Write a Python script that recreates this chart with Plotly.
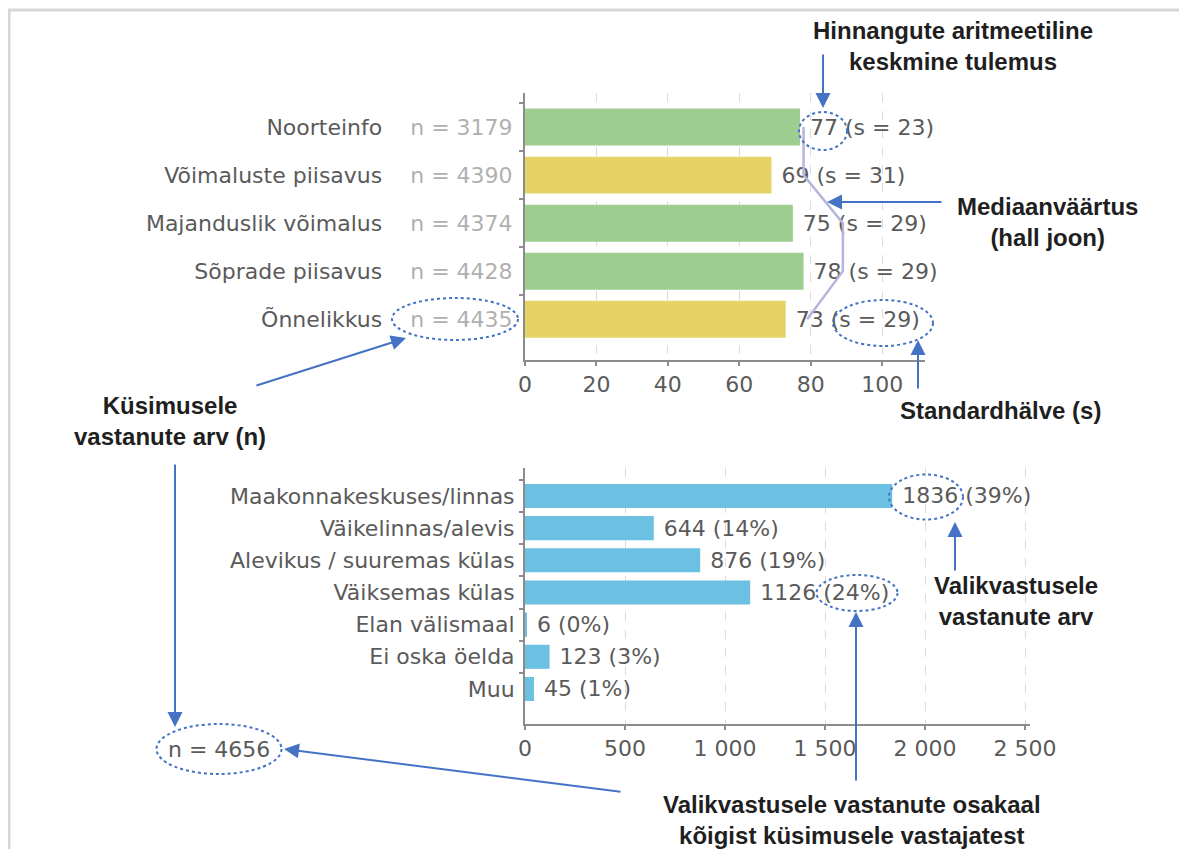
import plotly.graph_objects as go

# upper chart: ratings on a 0-100 scale
topics = ["Noorteinfo", "Võimaluste piisavus", "Majanduslik võimalus", "Sõprade piisavus", "Õnnelikkus"]
topic_n = [3179, 4390, 4374, 4428, 4435]
topic_mean = [77, 69, 75, 78, 73]
topic_sd = [23, 31, 29, 29, 29]
topic_median = [78, 78, 89, 89, 79]

# lower chart: place of residence
places = ["Maakonnakeskuses/linnas", "Väikelinnas/alevis", "Alevikus / suuremas külas",
          "Väiksemas külas", "Elan välismaal", "Ei oska öelda", "Muu"]
place_count = [1836, 644, 876, 1126, 6, 123, 45]
place_pct = [39, 14, 19, 24, 0, 3, 1]
total_n = 4656

top_ticks = [0, 20, 40, 60, 80, 100]
bottom_ticks = [0, 500, 1000, 1500, 2000, 2500]
bottom_ticktext = ["0", "500", "1 000", "1 500", "2 000", "2 500"]

GREEN = "#9dcd90"
YELLOW = "#e6d365"
BLUE = "#6cc0e2"
top_colors = [GREEN, YELLOW, GREEN, GREEN, YELLOW]

GRAY_TXT = "#5a5a5a"
LIGHT_TXT = "#b0b0b0"
CALLOUT = "#4472c4"
FONT = "DejaVu Sans"
BOLD_FONT = "Liberation Sans"

# figure is placed by the page with an 8px body margin
W, H = 1171, 841


def px(x):
    return (x - 8) / W


def py(y):
    return 1 - (y - 8) / H


top_labels = [f"{t}\u00a0\u00a0\u00a0\u00a0<span style='color:{LIGHT_TXT}'>n = {n}</span>"
              for t, n in zip(topics, topic_n)]

fig = go.Figure()

fig.add_trace(go.Bar(
    x=topic_mean, y=top_labels, orientation="h",
    marker=dict(color=top_colors, line=dict(width=0)),
    width=0.77,
    text=[f"\u00a0{m} (s = {s})" for m, s in zip(topic_mean, topic_sd)],
    textposition="outside", constraintext="none", cliponaxis=False,
    textfont=dict(family=FONT, size=22, color=GRAY_TXT),
    xaxis="x", yaxis="y", hoverinfo="skip",
))
fig.add_trace(go.Scatter(
    x=topic_median, y=top_labels, mode="lines",
    line=dict(color="#b5b5dc", width=2.5),
    xaxis="x", yaxis="y", hoverinfo="skip",
))
fig.add_trace(go.Bar(
    x=place_count, y=places, orientation="h",
    marker=dict(color=BLUE, line=dict(width=0)),
    width=0.75,
    text=[f"\u00a0{c} ({p}%)" for c, p in zip(place_count, place_pct)],
    textposition="outside", constraintext="none", cliponaxis=False,
    textfont=dict(family=FONT, size=22, color=GRAY_TXT),
    xaxis="x2", yaxis="y2", hoverinfo="skip",
))

axis_common = dict(
    showline=True, linecolor="#8c8c8c", linewidth=2,
    ticks="outside", ticklen=4, tickcolor="#8c8c8c", tickwidth=1.5,
    tickfont=dict(family=FONT, size=22, color=GRAY_TXT),
    zeroline=False, fixedrange=True, automargin=False,
)

fig.update_layout(
    template="none",
    width=W, height=H, autosize=False,
    margin=dict(l=0, r=0, t=0, b=0, pad=0),
    paper_bgcolor="white", plot_bgcolor="white",
    showlegend=False, bargap=0.2,
    xaxis=dict(**axis_common, domain=[px(525), px(925)], range=[0, 112], anchor="y",
               tickvals=top_ticks, showgrid=True, gridcolor="#dcdcdc", griddash="dash"),
    yaxis=dict(**axis_common, domain=[py(360), py(93)], anchor="x", type="category",
               categoryorder="array", categoryarray=top_labels,
               range=[4.85, -0.71], tickson="boundaries", ticklabelstandoff=6, showgrid=False),
    xaxis2=dict(**axis_common, domain=[px(525), px(1030)], range=[0, 2525], anchor="y2",
                tickvals=bottom_ticks, ticktext=bottom_ticktext,
                showgrid=True, gridcolor="#dcdcdc", griddash="dash"),
    yaxis2=dict(**axis_common, domain=[py(724), py(468)], anchor="x2", type="category",
                categoryorder="array", categoryarray=places,
                range=[7.09, -0.87], tickson="boundaries", ticklabelstandoff=4, showgrid=False),
)

# light frame along the top and left edges
fig.add_shape(type="line", xref="paper", yref="paper", x0=px(8), x1=1, y0=py(10), y1=py(10),
              line=dict(color="#d6d6d6", width=3))
fig.add_shape(type="line", xref="paper", yref="paper", x0=px(9), x1=px(9), y0=py(10), y1=0,
              line=dict(color="#d6d6d6", width=3))

# dotted ellipses (centre x, centre y, width, height in screen px)
ellipses = [(823, 131, 48, 38), (883, 323, 100, 46), (455, 319, 126, 42),
            (219, 749, 125, 50), (926, 497, 74, 45), (857, 593, 81, 36)]
for cx, cy, w, h in ellipses:
    fig.add_shape(type="circle", xref="paper", yref="paper",
                  x0=px(cx - w / 2), x1=px(cx + w / 2), y0=py(cy + h / 2), y1=py(cy - h / 2),
                  line=dict(color=CALLOUT, width=2, dash="dot"))

# arrows: (tail x, tail y, head x, head y)
arrows = [(823, 53, 823, 108), (943, 202, 827, 202), (918, 390, 918, 340),
          (255, 386, 406, 338), (175, 463, 175, 727), (622, 792, 284, 749),
          (955, 572, 955, 522), (856, 782, 856, 612)]
for tx, ty, hx, hy in arrows:
    fig.add_annotation(x=px(hx), y=py(hy), xref="paper", yref="paper", text="",
                       showarrow=True, ax=tx - hx, ay=ty - hy, axref="pixel", ayref="pixel",
                       arrowcolor=CALLOUT, arrowwidth=2, arrowhead=2, arrowsize=1.5, standoff=0)

callouts = [
    ("Hinnangute aritmeetiline<br>keskmine tulemus", 953, 46),
    ("Mediaanväärtus<br>(hall joon)", 1047, 222),
    ("Standardhälve (s)", 1000, 410),
    ("Küsimusele<br>vastanute arv (n)", 170, 421),
    ("Valikvastusele<br>vastanute arv", 1016, 601),
    ("Valikvastusele vastanute osakaal<br>kõigist küsimusele vastajatest", 852, 820),
]
for txt, cx, cy in callouts:
    fig.add_annotation(x=px(cx), y=py(cy), xref="paper", yref="paper", text=txt,
                       showarrow=False, xanchor="center", yanchor="middle", align="center",
                       font=dict(family=BOLD_FONT, size=24, color="#1f1f1f", weight="bold"))

fig.add_annotation(x=px(219), y=py(749), xref="paper", yref="paper", text=f"n = {total_n}",
                   showarrow=False, xanchor="center", yanchor="middle",
                   font=dict(family=FONT, size=22, color=GRAY_TXT))

fig.write_html("out.html")
